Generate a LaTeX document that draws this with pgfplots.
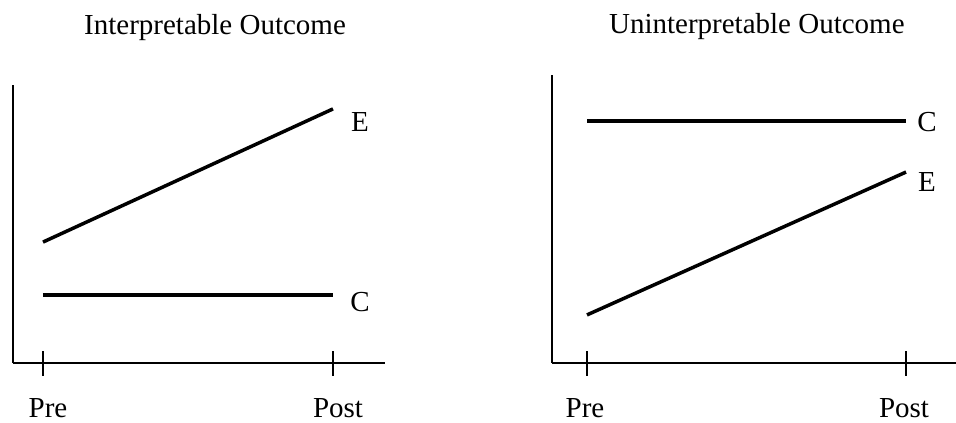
\documentclass[border=0pt]{standalone}
\usepackage{fontspec}
\setmainfont{Liberation Serif}
\usepackage{pgfplots}
\pgfplotsset{compat=1.18}
\newcommand\ff{\fontsize{14.5}{17}\selectfont}
\pgfplotsset{myax/.style={
  scale only axis,
  axis x line=bottom, axis y line=left,
  axis line style={-, line width=0.85pt, black},
  xtick={0,1}, xticklabels={Pre,Post}, ytick=\empty,
  tick align=center, major tick length=12.5pt,
  every tick/.style={black, line width=0.85pt},
  clip=false, anchor=south west, ymin=0, ymax=10,
  title style={anchor=center, font=\ff},
  xticklabel style={font=\ff, anchor=center, inner sep=0pt, yshift=-16.5pt},
}}
\begin{document}
\ff
\begin{tikzpicture}[x=1pt,y=1pt]
\begin{axis}[myax, at={(6.5pt,-181.5pt)}, width=186pt, height=139pt,
  xmin=-0.1034, xmax=1.1793,
  title={Interpretable Outcome},
  title style={at={(axis description cs:0.543,1.162)}},
  xticklabel style={xshift=2.5pt}]
\addplot[black, line width=1.75pt] coordinates {(0,4.35) (1,9.14)};
\addplot[black, line width=1.75pt] coordinates {(0,2.45) (1,2.45)};
\node[font=\ff] at (axis cs:1.093,8.67) {E};
\node[font=\ff] at (axis cs:1.093,2.19) {C};
\end{axis}
\begin{axis}[myax, at={(276pt,-181.5pt)}, width=202pt, height=144pt,
  xmin=-0.1097, xmax=1.1567,
  title={Uninterpretable Outcome},
  title style={at={(axis description cs:0.507,1.125)}},
  xticklabel style={xshift=-1pt}]
\addplot[black, line width=1.75pt] coordinates {(0,8.40) (1,8.40)};
\addplot[black, line width=1.75pt] coordinates {(0,1.67) (1,6.63)};
\node[font=\ff] at (axis cs:1.066,8.37) {C};
\node[font=\ff] at (axis cs:1.066,6.28) {E};
\end{axis}
\pgfresetboundingbox
\path[use as bounding box] (0pt,0pt) rectangle (478pt,-211pt);
\end{tikzpicture}
\end{document}
